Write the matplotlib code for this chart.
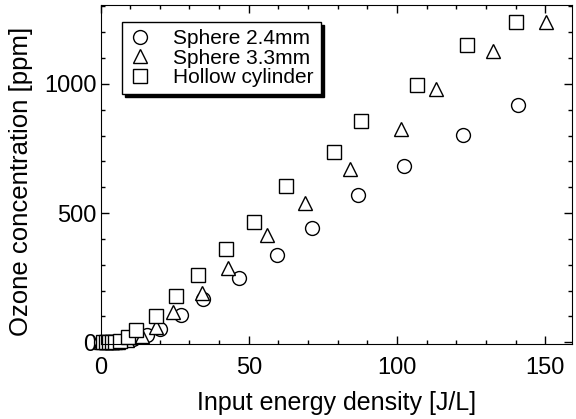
import matplotlib
matplotlib.use("Agg")
import matplotlib.pyplot as plt
from matplotlib.ticker import MultipleLocator

# values
sphere24_x = [0, 2, 4, 6, 8, 11, 15.7, 20.0, 27.1, 34.5, 46.6, 59.4, 71.2, 86.7, 102.2, 122.1, 140.9]
sphere24_y = [0, 0, 1, 2, 5, 12, 28, 51, 105, 166, 247, 339, 443, 570, 682, 801, 920]

sphere33_x = [0, 2, 4, 6, 9, 14.0, 18.7, 24.4, 34.2, 42.9, 56.1, 68.9, 84.0, 101.2, 113.3, 132.5, 150.3]
sphere33_y = [0, 0, 1, 3, 8, 24, 59, 116, 190, 286, 416, 539, 670, 824, 982, 1128, 1240]

hollow_x = [1, 2, 3, 4, 5, 6.5, 9.3, 12.0, 18.7, 25.4, 32.8, 42.3, 51.7, 62.5, 78.6, 88.0, 106.9, 123.7, 140.2]
hollow_y = [0, 0, 1, 1, 2, 4, 20, 47, 101, 179, 259, 362, 466, 604, 735, 858, 997, 1151, 1240]

labels = ["Sphere 2.4mm", "Sphere 3.3mm", "Hollow cylinder"]

plt.rcParams["font.family"] = ["Liberation Sans", "DejaVu Sans"]

fig = plt.figure(figsize=(5.76, 4.19), dpi=100)
ax = fig.add_axes([0.1745, 0.18, 0.8185, 0.808])

mk = dict(linestyle="none", markersize=10, markerfacecolor="white",
          markeredgecolor="black", markeredgewidth=1.0, clip_on=False)
ax.plot(sphere24_x, sphere24_y, marker="o", label=labels[0], **mk)
ax.plot(sphere33_x, sphere33_y, marker="^", label=labels[1], **mk)
ax.plot(hollow_x, hollow_y, marker="s", label=labels[2], **mk)

ax.set_xlim(0, 159)
ax.set_ylim(-5, 1305)
ax.xaxis.set_major_locator(MultipleLocator(50))
ax.xaxis.set_minor_locator(MultipleLocator(10))
ax.yaxis.set_major_locator(MultipleLocator(500))
ax.yaxis.set_minor_locator(MultipleLocator(100))
ax.tick_params(which="both", direction="in", top=True, right=True, labelsize=17)
ax.tick_params(which="major", length=6, width=1)
ax.tick_params(which="minor", length=3, width=1)
ax.tick_params(axis="x", pad=10)
ax.tick_params(axis="y", pad=3)

ax.set_xlabel("Input energy density [J/L]", fontsize=18)
ax.set_ylabel("Ozone concentration [ppm]", fontsize=18.5)
ax.yaxis.set_label_coords(-0.143, 0.48)
ax.xaxis.set_label_coords(0.5, -0.14)

leg = ax.legend(loc="upper left", bbox_to_anchor=(0.0456, 0.95), borderaxespad=0,
                fontsize=15, frameon=True, fancybox=False,
                shadow={"color": "black", "alpha": 1.0},
                handlelength=1.0, handletextpad=1.1, labelspacing=0.02, borderpad=0.35)
leg.get_frame().set_edgecolor("black")
leg.get_frame().set_linewidth(1.0)

fig.savefig("out.png")
